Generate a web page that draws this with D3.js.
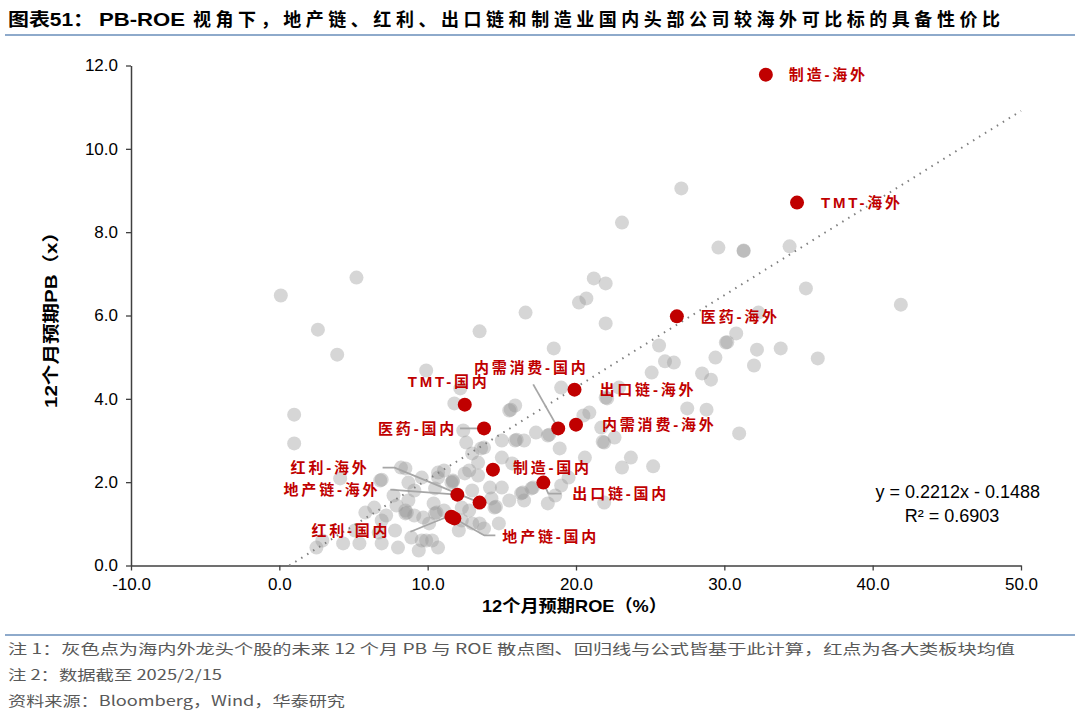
<!DOCTYPE html>
<html><head><meta charset="utf-8">
<script src="https://cdn.jsdelivr.net/npm/d3@7"></script>
<style>body{margin:0;background:#fff} svg{display:block}</style>
</head><body><svg id="c" width="1080" height="716"></svg>
<script>
// ---------- data ----------
const grayROE = [0.1,5.2,2.6,3.9,1.0,1.0,13.5,16.6,21.2,22.0,20.7,20.2,22.0,18.5,19.0,27.1,23.1,29.6,31.3,31.3,34.4,35.5,41.9,30.8,30.1,30.2,32.2,33.8,36.3,29.4,32.0,25.6,26.0,26.6,25.1,28.5,29.1,27.5,28.8,31.0,32.3,22.9,22.1,22.0,20.5,20.9,21.7,21.9,21.8,22.6,18.9,17.3,18.1,18.2,15.9,16.0,15.0,16.5,13.6,12.6,12.4,15.0,15.7,23.7,23.1,25.2,21.9,20.6,19.5,19.0,17.0,17.1,16.3,16.4,16.5,18.1,18.6,15.5,14.5,14.6,13.8,14.8,13.5,14.2,15.0,12.8,13.4,11.8,12.2,9.9,15.5,15.6,15.9,10.7,9.6,11.6,11.7,10.5,9.1,8.7,10.4,8.5,9.7,12.3,12.3,11.1,10.7,11.7,13.0,11.1,10.5,10.6,10.1,12.8,13.0,12.1,13.0,13.8,13.4,12.5,4.1,6.8,6.9,8.5,8.7,7.7,6.4,7.2,8.5,8.6,9.1,7.8,6.7,5.1,5.4,6.9,8.0,8.9,9.6,9.9,10.3,10.7,9.4,2.5,4.3,5.8,7.9,6.9,14.3,8.2,2.9];
const grayPB = [6.48,6.91,5.66,5.06,3.62,2.93,5.62,6.07,6.89,6.77,6.41,6.31,5.81,5.21,4.27,9.05,8.23,7.63,7.56,7.55,7.66,6.65,6.26,5.57,5.35,5.36,5.18,5.21,4.97,4.99,4.80,5.28,4.90,4.87,4.63,4.61,4.46,3.77,3.74,3.17,6.07,4.27,4.01,4.03,3.60,3.67,3.31,2.95,2.97,3.07,2.81,3.19,3.12,3.14,3.00,3.02,3.00,3.00,2.81,2.95,3.24,2.59,2.45,2.59,2.35,2.38,1.51,2.59,2.11,1.92,1.85,1.87,1.73,1.75,1.56,1.49,1.68,1.56,1.39,1.41,0.89,1.01,1.01,1.87,1.87,2.28,2.16,3.89,4.25,4.68,3.72,3.74,3.84,2.23,2.11,1.99,2.01,1.85,1.80,1.56,1.49,1.32,1.15,1.39,1.08,2.28,2.11,2.04,1.80,1.32,1.25,1.27,1.01,1.32,1.01,0.84,2.69,2.83,2.47,2.21,2.09,2.04,2.06,2.33,1.99,1.68,1.39,1.20,1.25,1.27,1.20,0.84,0.79,0.84,0.53,0.53,0.43,0.67,0.60,0.60,0.60,0.43,0.36,0.43,0.53,1.27,1.44,1.08,1.61,2.35,0.60];

const sectorNames = ["制造-海外","TMT-海外","医药-海外","TMT-国内","内需消费-国内","出口链-海外","医药-国内","内需消费-海外","制造-国内","出口链-国内","红利-海外","地产链-海外","红利-国内","地产链-国内"];
const sectorROE = [32.8,34.9,26.8,12.5,18.8,19.9,13.8,20.0,14.4,17.8,13.5,12.0,11.6,11.8];
const sectorPB  = [11.78,8.71,5.98,3.86,3.29,4.22,3.29,3.38,2.30,1.99,1.51,1.70,1.17,1.13];

const xTicks = [-10,0,10,20,30,40,50];
const yTicks = [0,2,4,6,8,10,12];
const slope = 0.2212, intercept = -0.1488, rSquared = 0.6903;

const titleParts = ["图表51：","PB-ROE","视角下，地产链、红利、出口链和制造业国内头部公司较海外可比标的具备性价比"];
const xTitle = "12个月预期ROE（%）";
const yTitle = "12个月预期PB（x）";
const notes = ["注 1：灰色点为海内外龙头个股的未来 12 个月 PB 与 ROE 散点图、回归线与公式皆基于此计算，红点为各大类板块均值","注 2：数据截至 2025/2/15","资料来源：Bloomberg，Wind，华泰研究"];

// ---------- layout (pixel offsets for labels, not data) ----------
const labelLayout = {
  "制造-海外":   {dx:23, dy:0, anchor:"start"},
  "TMT-海外":    {dx:24, dy:0, anchor:"start"},
  "医药-海外":   {dx:24, dy:0, anchor:"start"},
  "TMT-国内":    {dx:-16, dy:-23, anchor:"middle"},
  "内需消费-国内":{dx:-27, dy:-61, anchor:"middle", line:[[-25,-44],[0,0]]},
  "出口链-海外": {dx:25, dy:0, anchor:"start"},
  "医药-国内":   {dx:-27, dy:0, anchor:"end", line:[[-24,0],[0,0]]},
  "内需消费-海外":{dx:26, dy:0, anchor:"start"},
  "制造-国内":   {dx:20, dy:-2, anchor:"start"},
  "出口链-国内": {dx:29, dy:11, anchor:"start", line:[[0,0],[5,11],[18,11]]},
  "红利-海外":   {dx:-110, dy:-35, anchor:"end", line:[[-97,-35],[-85,-35],[0,0]]},
  "地产链-海外": {dx:-77, dy:-5, anchor:"end", line:[[-67,-5],[0,0]]},
  "红利-国内":   {dx:-61, dy:14, anchor:"end", line:[[-41,15],[-4,0]]},
  "地产链-国内": {dx:48, dy:18, anchor:"start", line:[[0,0],[30,17],[41,17]]}
};

const svg = d3.select("#c");
const m = {left:131, right:1021, top:65.5, bottom:565.5};
const x = d3.scaleLinear().domain([-10,50]).range([m.left, m.right]);
const y = d3.scaleLinear().domain([0,12]).range([m.bottom, m.top]);

const cjk = "'Liberation Sans','Noto Sans CJK SC',sans-serif";
const fmt = v => d3.format(".1f")(v).replace("\u2212","-");

// title
svg.append("text").attr("x",8).attr("y",26).attr("font-family",cjk).attr("font-weight","bold")
  .attr("font-size",18).attr("textLength",86).attr("lengthAdjust","spacingAndGlyphs").text(titleParts[0]);
svg.append("text").attr("x",99).attr("y",26).attr("font-family",cjk).attr("font-weight","bold")
  .attr("font-size",19).attr("textLength",86).attr("lengthAdjust","spacingAndGlyphs").text(titleParts[1]);
svg.append("text").attr("x",193).attr("y",26).attr("font-family",cjk).attr("font-weight","bold")
  .attr("font-size",18).attr("textLength",807).attr("lengthAdjust","spacing").text(titleParts[2]);
svg.append("line").attr("x1",5).attr("x2",1075).attr("y1",35).attr("y2",35).attr("stroke","#8eaacb").attr("stroke-width",2);

// axes
const xAxis = svg.append("g").attr("transform",`translate(0,${m.bottom})`)
  .call(d3.axisBottom(x).tickValues(xTicks).tickFormat(fmt).tickSize(5).tickSizeOuter(0));
const yAxis = svg.append("g").attr("transform",`translate(${m.left},0)`)
  .call(d3.axisLeft(y).tickValues(yTicks).tickFormat(fmt).tickSize(5).tickSizeOuter(0));
[xAxis,yAxis].forEach(g=>{
  g.select(".domain").attr("stroke","#404040").attr("stroke-width",1.5);
  g.selectAll(".tick line").attr("stroke","#404040").attr("stroke-width",1.3);
  g.selectAll("text").attr("font-family","'Liberation Sans',Arial,sans-serif").attr("font-size",17).attr("fill","#000");
});
xAxis.selectAll("text").attr("dy","0.95em");
yAxis.selectAll("text").attr("dx","-5");

// axis titles
svg.append("text").attr("x",482).attr("y",612).attr("font-family",cjk)
  .attr("font-weight","bold").attr("font-size",17).attr("textLength",185).attr("lengthAdjust","spacingAndGlyphs").text(xTitle);
svg.append("text").attr("transform","translate(57,408) rotate(-90)").attr("font-family",cjk)
  .attr("font-weight","bold").attr("font-size",17).attr("textLength",186).attr("lengthAdjust","spacingAndGlyphs").text(yTitle);

// gray points
const gray = grayROE.map((v,i)=>({roe:v,pb:grayPB[i]}));
svg.append("g").selectAll("circle").data(gray).join("circle")
  .attr("cx",d=>x(d.roe)).attr("cy",d=>y(d.pb)).attr("r",7)
  .attr("fill","#999999").attr("fill-opacity",0.4);

// regression line
const x0 = -intercept/slope;
svg.append("line").attr("x1",x(x0)).attr("y1",y(0)).attr("x2",x(50)).attr("y2",y(slope*50+intercept))
  .attr("stroke","#7f7f7f").attr("stroke-width",2).attr("stroke-dasharray","1.5,5.5");

// leader lines
const sectors = sectorNames.map((n,i)=>({name:n,roe:sectorROE[i],pb:sectorPB[i]}));
const line = d3.line();
svg.append("g").selectAll("path").data(sectors.filter(d=>labelLayout[d.name].line)).join("path")
  .attr("d",d=>{const px=x(d.roe),py=y(d.pb);return line(labelLayout[d.name].line.map(p=>[px+p[0],py+p[1]]));})
  .attr("fill","none").attr("stroke","#a6a6a6").attr("stroke-width",1.8);

// red points
svg.append("g").selectAll("circle").data(sectors).join("circle")
  .attr("cx",d=>x(d.roe)).attr("cy",d=>y(d.pb)).attr("r",7).attr("fill","#c00000");

// labels
svg.append("g").selectAll("text").data(sectors).join("text")
  .attr("x",d=>x(d.roe)+labelLayout[d.name].dx).attr("y",d=>y(d.pb)+labelLayout[d.name].dy)
  .attr("text-anchor",d=>labelLayout[d.name].anchor).attr("dy","0.35em")
  .attr("font-family",cjk).attr("font-weight","bold").attr("font-size",15).attr("letter-spacing","2.8px")
  .attr("fill","#c00000").text(d=>d.name);

// equation
svg.append("text").attr("x",1040).attr("y",498).attr("text-anchor","end").attr("font-family","'Liberation Sans',Arial,sans-serif")
  .attr("font-size",18).text(`y = ${slope}x - ${Math.abs(intercept)}`);
svg.append("text").attr("x",952).attr("y",522).attr("text-anchor","middle").attr("font-family","'Liberation Sans',Arial,sans-serif")
  .attr("font-size",18).text(`R² = ${rSquared}`);

// footer
svg.append("line").attr("x1",5).attr("x2",1075).attr("y1",635).attr("y2",635).attr("stroke","#8eaacb").attr("stroke-width",2);
const noteW = [1007,214,337];
notes.forEach((t,i)=>{
  svg.append("text").attr("x",8).attr("y",654+i*26).attr("font-family","'Noto Sans CJK SC',sans-serif")
    .attr("font-size",14).attr("fill","#595959").attr("textLength",noteW[i]).attr("lengthAdjust","spacingAndGlyphs").text(t);
});
</script></body></html>
